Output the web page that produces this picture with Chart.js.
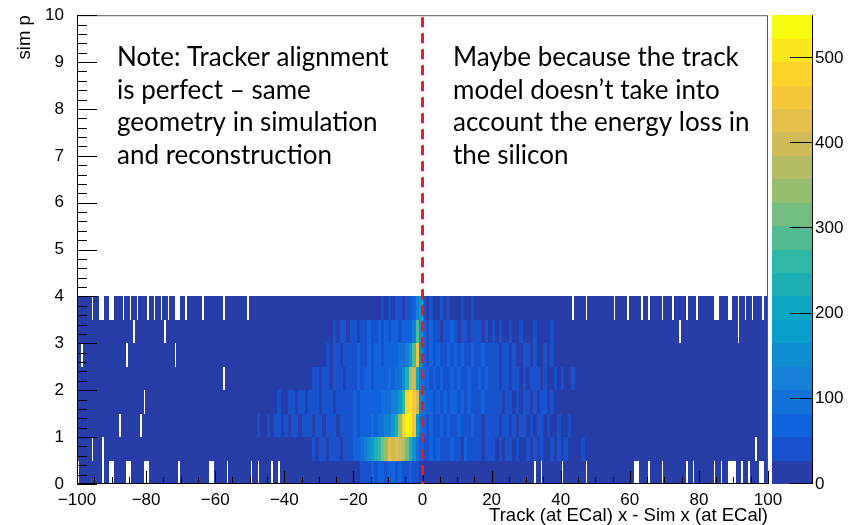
<!DOCTYPE html>
<html>
<head>
<meta charset="utf-8">
<title>sim p vs Track - Sim x at ECal</title>
<script src="https://cdn.jsdelivr.net/npm/chart.js@4.4.1/dist/chart.umd.min.js"></script>
<style>
  html, body { margin: 0; padding: 0; background: #fff; }
  #wrap { width: 850px; height: 525px; }
</style>
</head>
<body>
<div id="wrap"><canvas id="chart" width="850" height="525"></canvas></div>
<script>
// ---- axes ----
const xMin = -100, xMax = 100, xBinWidth = 1;
const yMin = 0, yMax = 10;
const zMin = 0, zMax = 550, nContours = 20;
const zBandWidth = (zMax - zMin) / nContours;

const xTickValues = [-100, -80, -60, -40, -20, 0, 20, 40, 60, 80, 100];
const yTickValues = [0, 1, 2, 3, 4, 5, 6, 7, 8, 9, 10];
const zTickValues = [0, 100, 200, 300, 400, 500];

// ---- data ----
// one row per sim p bin (width 0.5), 200 x bins of width 1 from -100 to 100,
// written as 10 strings of 20 bins each (-100..-80, -80..-60, ..., 80..100).
// per bin: '.' = empty, '0'-'9','a'-'j' = colour band 0..19
const yEdges = [0, 0.5, 1, 1.5, 2, 2.5, 3, 3.5, 4];

const p_000_050 = [".000000.0..000..000.", ".00000000.00000000..", "000.000000.0.000.0.0", "00000000000000000000", "00111212212212112110",
                   "00000000000000000000", "000000000000.0.00000", ".000000.000000000000", "0..00.000.000000.0.0", "0000.0.0...0.0.00..0"];
const p_050_100 = ["0000.00.000000000000", "00000000000000000000", "00000000000000000000", "00000000101101110111", "22345689bcfefedb8532",
                   "11212111211021111011", "10101101001010100101", "01000010000000000000", "00000000000000000000", "0000000000000000.000"];
const p_100_150 = ["000000000000.00000.0", "00000000000000000000", "00000000000010010110", "10110111011011101111", "2122232334468chjig63",
                   "21211212112111211011", "11011010110101101001", "00100000000000000000", "00000000000000000000", "00000000000000000000"];
const p_150_200 = ["0000000000000000000.", "00000000000000000000", "00000000000000000010", "01101101110111011111", "212222223334469hige4",
                   "32212121221212111211", "11101101011010110100", "00000000000000000000", "00000000000000000000", "00000000000000000000"];
const p_200_250 = ["00000000000000000000", "00000000000000000000", "00.00000000000000000", "00000000110110111011", "1212212222323358de73",
                   "22121211212112112121", "11011011010111010010", "10010000000000000000", "00000000000000000000", "00000000000000000000"];
const p_250_300 = ["0.000000000000.00000", "00000000.00000000000", "00000000000000000000", "00000000000010110111", "12112122122223346ag5",
                   "21212112121211211211", "11011010011010010100", "00000000000000000000", "00000000000000000000", "00000000000000000000"];
const p_300_350 = ["0000000000000000.000", "00000.00000000000000", "00000000000000000000", "00000000000000101101", "101121121212212224a5",
                   "21211011210110111010", "10100100100010000100", "00000000000000000000", "00000000000000.00000", "00000000000.00000000"];
const p_350_400 = ["0000.0..0..00.0.0.00", ".0.0.0.0..0.0000.000", "00.000000.0000000000", "00000000000000000000", "00000000101011011246",
                   "10100101000100100000", "00000000000000000000", "000.000.0000000.000.", "000.0.000.00.000.00.", "0000..00..0.0.0.00.0"];

const rows = [p_000_050, p_050_100, p_100_150, p_150_200, p_200_250, p_250_300, p_300_350, p_350_400];

const noteLeft = ["Note: Tracker alignment", "is perfect \u2013 same", "geometry in simulation", "and reconstruction"];
const noteRight = ["Maybe because the track", "model doesn\u2019t take into", "account the energy loss in", "the silicon"];

// ---- decode rows into bin contents ----
const rowCounts = rows.map((segs, r) => {
  const codes = segs.join("");
  if (codes.length !== (xMax - xMin) / xBinWidth) throw new Error("row " + r + " has " + codes.length + " bins");
  return codes.split("").map(ch => ch === "." ? 0 : (parseInt(ch, 20) + 0.5) * zBandWidth);
});

// ---- kBird palette ----
const birdStops = [0.0, 0.125, 0.25, 0.375, 0.5, 0.625, 0.75, 0.875, 1.0];
const birdR = [0.2082, 0.0592, 0.0780, 0.0232, 0.1802, 0.5301, 0.8186, 0.9956, 0.9764];
const birdG = [0.1664, 0.3599, 0.5041, 0.6419, 0.7178, 0.7492, 0.7328, 0.7862, 0.9832];
const birdB = [0.5293, 0.8684, 0.8385, 0.7914, 0.6425, 0.4662, 0.3499, 0.1968, 0.0539];

const birdColor = f => {
  let i = 0;
  while (i < birdStops.length - 2 && f > birdStops[i + 1]) i++;
  const t = (f - birdStops[i]) / (birdStops[i + 1] - birdStops[i]);
  const c = arr => Math.round(255 * (arr[i] + (arr[i + 1] - arr[i]) * t));
  return `rgb(${c(birdR)},${c(birdG)},${c(birdB)})`;
};

const bandColors = [];
for (let k = 0; k < nContours; k++) {
  bandColors.push(birdColor(Math.floor((k + 0.99) * 255 / nContours) / 254));
}
const colorFor = count => bandColors[Math.min(nContours - 1, Math.floor((count - zMin) / zBandWidth))];

// ---- fonts ----
const axisFamily = "'Liberation Sans', Arial, Helvetica, sans-serif";
const tickFont = { family: axisFamily, size: 17 };
const noteFont = "26px Lato, 'Open Sans', sans-serif";

const fmt = v => (v < 0 ? "\u2212" + Math.abs(v) : String(v));

// ---- drawing plugin ----
const histPlugin = {
  id: "hist2d",
  beforeDatasetsDraw(chart) {
    const { ctx, chartArea: a, scales: { x, y } } = chart;
    ctx.save();
    ctx.beginPath();
    ctx.rect(a.left, a.top, a.right - a.left, a.bottom - a.top);
    ctx.clip();
    // pass 0: filled bins bleed 1px sideways so empty bins read as thin gaps
    // pass 1: redraw each bin exactly on top
    [1, 0].forEach(bleed => {
      rowCounts.forEach((counts, r) => {
        const yTop = Math.round(y.getPixelForValue(yEdges[r + 1]));
        const yBot = Math.round(y.getPixelForValue(yEdges[r]));
        counts.forEach((c, i) => {
          if (c <= 0) return;
          const x0 = Math.round(x.getPixelForValue(xMin + i * xBinWidth)) - bleed;
          const x1 = Math.round(x.getPixelForValue(xMin + (i + 1) * xBinWidth)) + bleed;
          ctx.fillStyle = colorFor(c);
          ctx.fillRect(x0, yTop, x1 - x0, yBot - yTop);
        });
      });
    });
    ctx.restore();
  },
  afterDraw(chart) {
    const { ctx, chartArea: a, scales: { x, y, z } } = chart;
    ctx.save();

    // frame
    ctx.lineWidth = 1;
    ctx.strokeStyle = "#555";
    ctx.beginPath();
    ctx.moveTo(a.left, a.top + 0.5);
    ctx.lineTo(a.right - 0.5, a.top + 0.5);
    ctx.lineTo(a.right - 0.5, a.bottom);
    ctx.stroke();

    // axes and inward ticks
    ctx.strokeStyle = "#000";
    ctx.beginPath();
    ctx.moveTo(a.left + 0.5, a.top);
    ctx.lineTo(a.left + 0.5, a.bottom - 0.5);
    ctx.lineTo(a.right, a.bottom - 0.5);
    for (let v = xMin; v <= xMax; v += 5) {
      const px = Math.round(x.getPixelForValue(v)) + 0.5;
      ctx.moveTo(px, a.bottom);
      ctx.lineTo(px, a.bottom - (v % 20 === 0 ? 13 : 7));
    }
    for (let i = 0; i <= 50; i++) {
      const py = Math.round(y.getPixelForValue(i * 0.2)) + 0.5;
      ctx.moveTo(a.left, py);
      ctx.lineTo(a.left + (i % 5 === 0 ? 20 : 10), py);
    }
    ctx.stroke();

    // dashed line at x = 0
    const x0 = x.getPixelForValue(0);
    ctx.strokeStyle = "#f21818";
    ctx.lineWidth = 3;
    ctx.setLineDash([10, 6]);
    ctx.beginPath();
    ctx.moveTo(x0, a.top + 2);
    ctx.lineTo(x0, a.bottom);
    ctx.stroke();
    ctx.setLineDash([]);

    // notes
    ctx.fillStyle = "#000";
    ctx.font = noteFont;
    ctx.textAlign = "left";
    ctx.textBaseline = "alphabetic";
    noteLeft.forEach((t, i) => ctx.fillText(t, 117, 66 + i * 32.5));
    noteRight.forEach((t, i) => ctx.fillText(t, 453, 66 + i * 32.5));

    // colour bar
    const cbLeft = a.right + 4, cbRight = a.right + 44;
    for (let k = 0; k < nContours; k++) {
      const yb = Math.round(z.getPixelForValue(zMin + k * zBandWidth));
      const yt = Math.round(z.getPixelForValue(zMin + (k + 1) * zBandWidth));
      ctx.fillStyle = bandColors[k];
      ctx.fillRect(cbLeft, yt, cbRight - cbLeft, yb - yt);
    }
    ctx.strokeStyle = "#000";
    ctx.lineWidth = 1;
    ctx.beginPath();
    ctx.moveTo(cbRight + 0.5, a.top);
    ctx.lineTo(cbRight + 0.5, a.bottom);
    zTickValues.forEach(v => {
      const py = Math.round(z.getPixelForValue(v)) - 0.5;
      ctx.moveTo(cbRight, py);
      ctx.lineTo(cbRight - 22, py);
    });
    ctx.stroke();
    ctx.restore();
  }
};

new Chart(document.getElementById("chart"), {
  type: "scatter",
  data: { datasets: [{ label: "sim p", data: [] }] },
  plugins: [histPlugin],
  options: {
    responsive: false,
    animation: false,
    devicePixelRatio: 1,
    layout: { padding: { top: 15, left: 0, right: 0, bottom: 0 } },
    plugins: { legend: { display: false }, tooltip: { enabled: false } },
    scales: {
      x: {
        type: "linear", position: "bottom", min: xMin, max: xMax,
        afterBuildTicks: s => { s.ticks = xTickValues.map(v => ({ value: v })); },
        afterFit: s => { s.height = 41; },
        grid: { display: false },
        border: { display: false },
        ticks: { color: "#000", font: tickFont, padding: -2, maxRotation: 0, autoSkip: false, callback: v => fmt(v) },
        title: { display: true, text: "Track (at ECal) x - Sim x (at ECal)", align: "end", color: "#000",
                 font: { family: axisFamily, size: 18.5, lineHeight: 1 }, padding: 0 }
      },
      y: {
        type: "linear", position: "left", min: yMin, max: yMax,
        afterBuildTicks: s => { s.ticks = yTickValues.map(v => ({ value: v })); },
        afterFit: s => { s.width = 77; },
        grid: { display: false },
        border: { display: false },
        ticks: { color: "#000", font: tickFont, padding: 5, autoSkip: false, callback: v => fmt(v) },
        title: { display: true, text: "sim p", align: "end", color: "#000",
                 font: { family: axisFamily, size: 18.5 }, padding: { top: 14, bottom: 0 } }
      },
      z: {
        type: "linear", position: "right", min: zMin, max: zMax,
        afterBuildTicks: s => { s.ticks = zTickValues.map(v => ({ value: v })); },
        afterFit: s => { s.width = 82; },
        grid: { display: true, drawOnChartArea: false, drawTicks: true, tickLength: 44, color: "rgba(0,0,0,0)" },
        border: { display: false },
        ticks: { color: "#000", font: tickFont, padding: 3, autoSkip: false }
      }
    }
  }
});
</script>
</body>
</html>
